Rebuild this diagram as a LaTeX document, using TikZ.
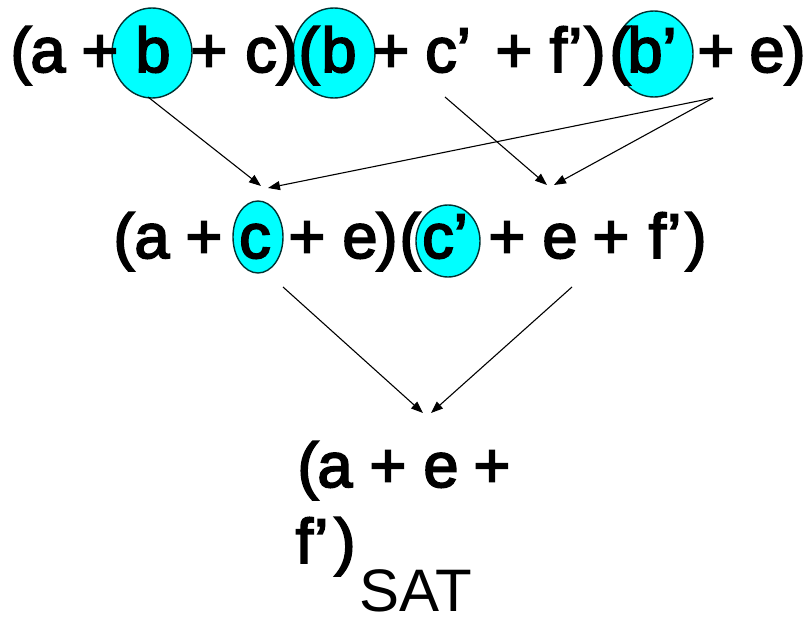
\documentclass[tikz,border=0pt]{standalone}
\usepackage{fontspec}
\setmainfont{Liberation Sans}
\newfontfamily\tokfont[FakeBold=3]{Liberation Sans}
\usetikzlibrary{arrows.meta,shapes.geometric}
\definecolor{hlfill}{RGB}{0,255,255}
\definecolor{hledge}{RGB}{0,50,50}
\tikzset{
  tok/.style={anchor=base,inner sep=0pt,font=\tokfont\fontsize{63}{70}\selectfont},
  hl/.style={ellipse,fill=hlfill,draw=hledge,line width=1.4pt,inner sep=0pt},
  arr/.style={line width=1.1pt,-{Triangle[length=12pt,width=9pt]}}
}
\begin{document}
\begin{tikzpicture}[x=1pt,y=1pt]
\useasboundingbox[fill=white] (0,0) rectangle (807,-628);
% highlight ellipses
\node[hl,minimum width=80,minimum height=90] (h1) at (152,-53) {};
\node[hl,minimum width=82,minimum height=90] (h2) at (334,-53) {};
\node[hl,minimum width=78,minimum height=86] (h3) at (654,-54) {};
\node[hl,minimum width=50,minimum height=72] (h4) at (258,-237) {};
\node[hl,minimum width=64,minimum height=72] (h5) at (448,-241) {};
% row 1
\foreach \x/\t [count=\i] in {21/{(},48/a,100/+,153/b,209/+,261/c,287/{)},309/{(},339/b,391/+,448/{c’},514/+,566/{f’},595/{)},620/{(},652/{b’},716/+,767/e,795/{)}}
  \node[tok] (a\i) at (\x,-72) {\t};
% row 2
\foreach \x/\t [count=\i] in {124/{(},152/a,204/+,255/c,307/+,360/e,387/{)},410/{(},445/{c’},507/+,560/e,611/+,665/{f’},696/{)}}
  \node[tok] (b\i) at (\x,-258) {\t};
% row 3
\foreach \x/\t [count=\i] in {308/{(},335/a,388/+,441/e,492/+}
  \node[tok] (c\i) at (\x,-487) {\t};
\node[tok] (d1) at (312,-563) {f’};
\node[tok] (d2) at (345,-563) {)};
\node[anchor=base,inner sep=0pt,font=\fontsize{60}{66}\selectfont] (sat) at (416,-612) {SAT};
% connector ends
\coordinate (s1) at (148,-97);
\coordinate (s2) at (713,-98);
\coordinate (s3) at (445,-97);
\coordinate (s5) at (283,-287);
\coordinate (s6) at (572,-287);
\coordinate (e1) at (261,-186);
\coordinate (e2) at (268,-188);
\coordinate (e3) at (547,-185);
\coordinate (e4) at (554,-185);
\coordinate (e5) at (423,-413);
\coordinate (e6) at (431,-413);
\draw[arr] (s1) -- (e1);
\draw[arr] (s2) -- (e2);
\draw[arr] (s3) -- (e3);
\draw[arr] (s2) -- (e4);
\draw[arr] (s5) -- (e5);
\draw[arr] (s6) -- (e6);
\end{tikzpicture}
\end{document}
